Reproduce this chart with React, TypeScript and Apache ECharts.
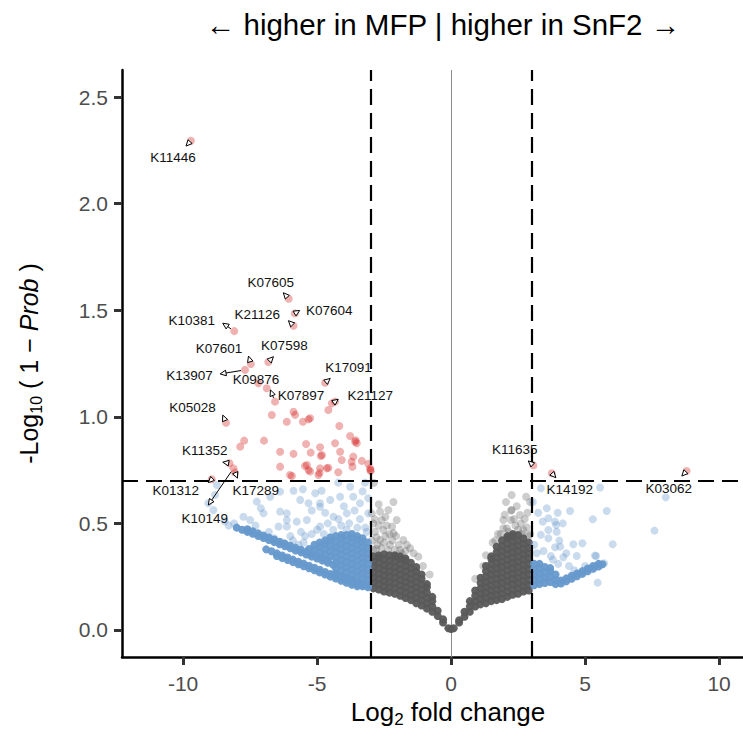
import React, { useEffect, useRef } from "react";
import * as echarts from "echarts";

const FONT = "'Liberation Sans', Arial, Helvetica, sans-serif";

// axis ticks and thresholds
const xTicks = [-10, -5, 0, 5, 10];
const yTicks = [0, 0.5, 1, 1.5, 2, 2.5];
const fcCut = 3;
const probCut = 0.699;

// dense non-significant cloud (gray), per column: [log2FC, [-log10(1-prob) values]]
const grayCore: [number, number[]][] = [
  [0.0, [0.004]],
  [-0.1, [0.008]],
  [-0.3, [0.035, 0.05]],
  [-0.5, [0.065, 0.09]],
  [-0.7, [0.085, 0.11, 0.135, 0.155]],
  [-0.9, [0.1, 0.125, 0.15, 0.175, 0.2, 0.215]],
  [-1.1, [0.115, 0.14, 0.165, 0.19, 0.215, 0.24, 0.26]],
  [-1.3, [0.125, 0.15, 0.175, 0.2, 0.225, 0.25, 0.275, 0.295]],
  [-1.5, [0.14, 0.165, 0.19, 0.215, 0.24, 0.265, 0.29, 0.315]],
  [-1.7, [0.15, 0.175, 0.2, 0.225, 0.25, 0.275, 0.3, 0.325, 0.335]],
  [-1.9, [0.16, 0.185, 0.21, 0.235, 0.26, 0.285, 0.31, 0.335, 0.345]],
  [-2.1, [0.17, 0.195, 0.22, 0.245, 0.27, 0.295, 0.32, 0.345, 0.35]],
  [-2.3, [0.175, 0.2, 0.225, 0.25, 0.275, 0.3, 0.325, 0.35]],
  [-2.5, [0.18, 0.205, 0.23, 0.255, 0.28, 0.305, 0.33, 0.355]],
  [-2.7, [0.19, 0.215, 0.24, 0.265, 0.29, 0.315, 0.34, 0.35]],
  [-2.9, [0.195, 0.22, 0.245, 0.27, 0.295, 0.32, 0.345]],
  [0.1, [0.008]],
  [0.3, [0.035, 0.045]],
  [0.5, [0.062, 0.085]],
  [0.7, [0.085, 0.11, 0.135]],
  [0.9, [0.11, 0.135, 0.16, 0.185]],
  [1.1, [0.12, 0.145, 0.17, 0.195, 0.22, 0.245]],
  [1.3, [0.125, 0.15, 0.175, 0.2, 0.225, 0.25, 0.275, 0.3]],
  [1.5, [0.135, 0.16, 0.185, 0.21, 0.235, 0.26, 0.285, 0.31, 0.335, 0.345]],
  [1.7, [0.14, 0.165, 0.19, 0.215, 0.24, 0.265, 0.29, 0.315, 0.34, 0.365, 0.39]],
  [1.9, [0.145, 0.17, 0.195, 0.22, 0.245, 0.27, 0.295, 0.32, 0.345, 0.37, 0.395, 0.42]],
  [2.1, [0.155, 0.18, 0.205, 0.23, 0.255, 0.28, 0.305, 0.33, 0.355, 0.38, 0.405, 0.43, 0.44]],
  [2.3, [0.165, 0.19, 0.215, 0.24, 0.265, 0.29, 0.315, 0.34, 0.365, 0.39, 0.415, 0.44, 0.45]],
  [2.5, [0.17, 0.195, 0.22, 0.245, 0.27, 0.295, 0.32, 0.345, 0.37, 0.395, 0.42, 0.445]],
  [2.7, [0.18, 0.205, 0.23, 0.255, 0.28, 0.305, 0.33, 0.355, 0.38, 0.405, 0.43]],
  [2.9, [0.185, 0.21, 0.235, 0.26, 0.285, 0.31, 0.335, 0.36, 0.385, 0.41]],
];

const graySparse: [number, number][] = [
  [-2.65, 0.555], [-2.34, 0.563], [-2.03, 0.516], [-2.15, 0.454], [-2.53, 0.469], [-2.84, 0.461],
  [-1.78, 0.422], [-1.53, 0.383], [-2.65, 0.422], [-2.28, 0.399], [-1.9, 0.375], [-1.22, 0.344],
  [-2.9, 0.375], [-2.59, 0.516], [-2.96, 0.547], [-2.45, 0.44], [-2.75, 0.4], [-2.2, 0.42],
  [-1.65, 0.4], [-1.4, 0.36], [-1.05, 0.3], [-0.8, 0.26], [-2.9, 0.5], [-2.4, 0.49], [-2.7, 0.59],
  [-2.88, 0.69], [-2.95, 0.42], [-2.8, 0.38], [-2.6, 0.385], [-2.35, 0.375], [-2.1, 0.375],
  [-1.85, 0.36], [-2.05, 0.44], [-2.5, 0.41], [-2.78, 0.435], [-2.3, 0.45], [-2.7, 0.49],
  [-2.2, 0.485], [-1.95, 0.4], [-2.45, 0.53], [-2.85, 0.52], [-1.7, 0.37], [-2.15, 0.6],
  [2.26, 0.633], [2.57, 0.539], [2.8, 0.625], [2.26, 0.563], [1.95, 0.516], [2.08, 0.477],
  [2.7, 0.469], [2.24, 0.56], [2.23, 0.516], [2.82, 0.482], [1.95, 0.477], [2.95, 0.6],
  [2.6, 0.5], [2.4, 0.49], [1.75, 0.45], [1.55, 0.41], [1.3, 0.35], [2.95, 0.45], [2.75, 0.52],
  [1.2, 0.3], [0.9, 0.24], [2.05, 0.6], [2.9, 0.44], [2.5, 0.47], [2.15, 0.46], [1.85, 0.45],
  [2.35, 0.52], [2.65, 0.45], [2.85, 0.55], [2.45, 0.58], [1.65, 0.42], [2.0, 0.54],
];

// dense cloud with |log2FC| > 3 but low probability (blue), per column
const blueCore: [number, number[]][] = [
  // upper streak
  [-8.0, [0.48]], [-7.8, [0.47]], [-7.6, [0.46, 0.472]], [-7.4, [0.451, 0.463]],
  [-7.2, [0.441, 0.453]], [-7.0, [0.431, 0.443]], [-6.8, [0.422, 0.434]], [-6.6, [0.412, 0.424]],
  [-6.4, [0.402, 0.414]], [-6.2, [0.393, 0.405]], [-6.0, [0.383, 0.395]], [-5.8, [0.373, 0.385]],
  [-5.6, [0.364, 0.376]], [-5.4, [0.354, 0.366]], [-5.2, [0.344, 0.356]], [-5.0, [0.335, 0.347]],
  [-4.8, [0.325, 0.337]], [-4.6, [0.315, 0.327]], [-4.4, [0.306]],
  // lower streak
  [-6.9, [0.378]], [-6.7, [0.369]], [-6.5, [0.359, 0.347]], [-6.3, [0.349, 0.337]],
  [-6.1, [0.34, 0.328]], [-5.9, [0.33, 0.318]], [-5.7, [0.32, 0.308]], [-5.5, [0.311, 0.299]],
  [-5.3, [0.301, 0.289]], [-5.1, [0.292, 0.28]], [-4.9, [0.282, 0.27]], [-4.7, [0.272, 0.26]],
  [-4.5, [0.262, 0.25]], [-4.3, [0.253, 0.241]], [-4.1, [0.243, 0.231]], [-3.9, [0.233, 0.221]],
  [-3.7, [0.224, 0.212]], [-3.5, [0.214, 0.205]],
  // block next to the threshold
  [-5.3, [0.38]],
  [-5.1, [0.375, 0.4]],
  [-4.9, [0.365, 0.39, 0.41]],
  [-4.7, [0.355, 0.38, 0.405, 0.42]],
  [-4.5, [0.345, 0.37, 0.395, 0.42, 0.435]],
  [-4.3, [0.265, 0.29, 0.315, 0.34, 0.365, 0.39, 0.415, 0.44]],
  [-4.1, [0.255, 0.28, 0.305, 0.33, 0.355, 0.38, 0.405, 0.43, 0.445]],
  [-3.9, [0.245, 0.27, 0.295, 0.32, 0.345, 0.37, 0.395, 0.42, 0.445]],
  [-3.7, [0.235, 0.26, 0.285, 0.31, 0.335, 0.36, 0.385, 0.41, 0.435, 0.45]],
  [-3.5, [0.225, 0.25, 0.275, 0.3, 0.325, 0.35, 0.375, 0.4, 0.425, 0.44]],
  [-3.3, [0.205, 0.215, 0.24, 0.265, 0.29, 0.315, 0.34, 0.365, 0.39, 0.415, 0.43]],
  [-3.1, [0.2, 0.21, 0.235, 0.26, 0.285, 0.31, 0.335, 0.36, 0.385, 0.41]],
  // right side
  [3.1, [0.21, 0.235, 0.26, 0.285, 0.31]],
  [3.3, [0.215, 0.24, 0.265, 0.29, 0.31]],
  [3.5, [0.22, 0.245, 0.27, 0.295]],
  [3.7, [0.225, 0.25, 0.275, 0.29]],
  [3.9, [0.215, 0.235, 0.26]],
  [4.1, [0.218, 0.232]], [4.3, [0.228, 0.242]], [4.5, [0.24, 0.254]], [4.7, [0.252, 0.265]],
  [4.9, [0.263, 0.276]], [5.1, [0.275, 0.288]], [5.3, [0.287, 0.3]], [5.5, [0.298, 0.31]],
  [5.65, [0.308]],
];

const blueSparse: [number, number][] = [
  [-8.81, 0.633], [-9.06, 0.594], [-7.25, 0.602], [-7.1, 0.571], [-7.5, 0.516], [-7.75, 0.531],
  [-6.38, 0.649], [-5.88, 0.653], [-5.63, 0.61], [-6.38, 0.555], [-6.13, 0.516], [-6.44, 0.485],
  [-5.76, 0.508], [-5.07, 0.641], [-5.32, 0.594], [-4.89, 0.594], [-5.53, 0.66], [-4.83, 0.653],
  [-4.21, 0.691], [-3.77, 0.672], [-3.21, 0.691], [-4.51, 0.61], [-7.0, 0.547], [-6.13, 0.547],
  [-4.89, 0.578], [-4.14, 0.625], [-3.65, 0.625], [-3.4, 0.594], [-3.09, 0.547], [-3.09, 0.618],
  [-4.39, 0.531], [-3.89, 0.547], [-7.62, 0.469], [-8.87, 0.563], [-8.74, 0.68], [-6.13, 0.485],
  [-5.38, 0.516], [-4.89, 0.485], [-6.75, 0.625], [-5.0, 0.47], [-4.6, 0.5], [-4.2, 0.52],
  [-3.8, 0.5], [-3.4, 0.52], [-3.2, 0.48], [-4.4, 0.47], [-5.2, 0.45], [-5.6, 0.46], [-6.0, 0.44],
  [-6.3, 0.41], [-5.7, 0.4], [-6.6, 0.43], [-3.6, 0.56], [-4.0, 0.58], [-3.3, 0.65], [-4.7, 0.55],
  [-5.2, 0.56], [-5.9, 0.42], [-5.5, 0.41], [-6.8, 0.46], [-7.3, 0.49], [-8.3, 0.49], [-8.45, 0.51],
  [-8.1, 0.5], [-3.5, 0.48], [-3.9, 0.47], [-4.1, 0.49], [-3.15, 0.46], [-4.75, 0.45], [-5.45, 0.44],
  [3.35, 0.665], [5.56, 0.668], [8.01, 0.622], [7.59, 0.466], [3.57, 0.571], [3.98, 0.55],
  [4.44, 0.558], [5.81, 0.558], [5.29, 0.519], [3.42, 0.508], [3.63, 0.524], [3.88, 0.508],
  [3.92, 0.492], [4.17, 0.5], [3.63, 0.469], [3.94, 0.461], [3.35, 0.446], [3.63, 0.43],
  [4.04, 0.419], [3.88, 0.388], [4.07, 0.391], [4.56, 0.402], [4.9, 0.407], [6.03, 0.402],
  [5.41, 0.347], [4.69, 0.347], [3.72, 0.347], [4.19, 0.341], [5.47, 0.222], [5.37, 0.349],
  [5.71, 0.313], [3.2, 0.36], [3.1, 0.4], [3.45, 0.37], [3.8, 0.33], [4.4, 0.3], [4.0, 0.31],
  [3.25, 0.55], [3.05, 0.6], [4.6, 0.28], [5.0, 0.3], [4.3, 0.36],
];

// significant (red)
const redPoints: [number, number][] = [
  [-9.71, 2.295], [-6.06, 1.554], [-5.83, 1.485], [-5.88, 1.427], [-8.09, 1.402], [-7.47, 1.248],
  [-7.69, 1.22], [-6.82, 1.257], [-6.88, 1.134], [-7.19, 1.157], [-6.57, 1.071], [-4.7, 1.16],
  [-4.33, 1.071], [-4.45, 1.063], [-4.58, 1.032], [-8.4, 0.972], [-6.69, 1.008], [-5.88, 1.024],
  [-5.82, 1.009], [-6.13, 0.977], [-5.53, 0.977], [-5.32, 0.988], [-5.26, 0.993], [-4.17, 0.957],
  [-7.72, 0.888], [-7.87, 0.86], [-6.98, 0.888], [-6.38, 0.836], [-5.88, 0.826], [-5.41, 0.872],
  [-5.24, 0.832], [-4.89, 0.857], [-4.86, 0.816], [-4.82, 0.821], [-4.33, 0.876], [-4.14, 0.836],
  [-3.77, 0.91], [-3.58, 0.883], [-3.52, 0.876], [-3.56, 0.89], [-3.65, 0.813], [-3.33, 0.793],
  [-3.09, 0.779], [-3.02, 0.758], [-3.01, 0.75], [-3.0, 0.745], [-5.45, 0.769], [-5.38, 0.774],
  [-5.26, 0.743], [-5.32, 0.75], [-4.95, 0.727], [-4.91, 0.737], [-4.89, 0.758], [-4.64, 0.758],
  [-4.58, 0.761], [-4.21, 0.74], [-4.08, 0.797], [-3.71, 0.789], [-3.68, 0.766], [-5.94, 0.722],
  [-6.01, 0.727], [-6.38, 0.766], [-8.27, 0.782], [-8.12, 0.758], [-8.06, 0.738], [-8.93, 0.707],
  [3.07, 0.772], [3.76, 0.735], [8.79, 0.746],
];

// labels: name, point, label centre, arrow tip (null = no arrow)
const labelNames = ["K11446", "K07605", "K07604", "K21126", "K10381", "K07601", "K13907", "K07598",
  "K09876", "K07897", "K17091", "K21127", "K05028", "K11352", "K01312", "K17289", "K10149",
  "K11635", "K14192", "K03062"];
const labelPoint: [number, number][] = [
  [-9.71, 2.295], [-6.06, 1.554], [-5.83, 1.485], [-5.88, 1.427], [-8.09, 1.402], [-7.47, 1.248],
  [-7.69, 1.22], [-6.82, 1.257], [-6.57, 1.071], [-6.57, 1.071], [-4.7, 1.16], [-4.33, 1.071],
  [-8.4, 0.972], [-8.27, 0.782], [-8.93, 0.707], [-8.06, 0.738], [-8.12, 0.758],
  [3.07, 0.772], [3.76, 0.735], [8.79, 0.746],
];
const labelPos: [number, number][] = [
  [-10.38, 2.217], [-6.73, 1.631], [-4.55, 1.501], [-7.23, 1.482], [-9.68, 1.451], [-8.66, 1.319],
  [-9.76, 1.196], [-6.22, 1.334], [-7.28, 1.176], [-5.6, 1.098], [-3.83, 1.23], [-3.02, 1.099],
  [-9.65, 1.045], [-9.19, 0.841], [-10.27, 0.653], [-7.29, 0.653], [-9.19, 0.524],
  [2.38, 0.847], [4.43, 0.657], [8.12, 0.665],
];
const labelTip: ([number, number] | null)[] = [
  [-9.89, 2.27], [-6.26, 1.582], [-5.65, 1.499], [-6.07, 1.451], [-8.52, 1.439], [-7.56, 1.285],
  [-8.62, 1.201], [-6.63, 1.282], [-6.74, 1.126], null, [-4.51, 1.18], [-4.21, 1.082],
  [-8.52, 1.008], [-8.52, 0.787], [-9.06, 0.691], [-7.97, 0.712], [-9.06, 0.586],
  [2.88, 0.793], [3.91, 0.714], [8.61, 0.722],
];

const expand = (cols: [number, number[]][]) =>
  cols.flatMap(([x, ys]) => ys.map((y) => [x, y]));

export default function App() {
  const ref = useRef<HTMLDivElement>(null);
  useEffect(() => {
    if (!ref.current) return;
    const chart = echarts.init(ref.current, undefined, { renderer: "svg" });
    const annData = labelNames.map((_, i) => {
      const p = labelPoint[i];
      const l = labelPos[i];
      const t = labelTip[i];
      return [p[0], p[1], l[0], l[1], t ? t[0] : p[0], t ? t[1] : p[1], t ? 1 : 0];
    });
    const sym = 8;
    const option: any = {
      animation: false,
      grid: {
        left: 122,
        top: 70,
        width: 652,
        height: 587,
        containLabel: false,
        outerBoundsMode: "none",
      },
      graphic: [
        {
          type: "text",
          x: 443,
          y: 24,
          style: {
            text: "← higher in MFP | higher in SnF2 →",
            fontSize: 29.5,
            fontFamily: FONT,
            fill: "#000",
            align: "center",
            verticalAlign: "middle",
          },
        },
      ],
      xAxis: {
        type: "value",
        min: -12.28,
        max: 12.05,
        splitLine: { show: false },
        axisLine: { show: true, onZero: false, lineStyle: { color: "#000", width: 2.5 } },
        axisTick: { show: true, customValues: xTicks, length: 8, lineStyle: { color: "#333", width: 3 } },
        axisLabel: { customValues: xTicks, color: "#4d4d4d", fontSize: 21, fontFamily: FONT, margin: 16 },
        name: "{a|Log}{s|2}{a| fold change}",
        nameLocation: "middle",
        nameGap: 39,
        nameTextStyle: {
          rich: {
            a: { fontSize: 26, fontFamily: FONT, color: "#000", lineHeight: 32 },
            s: { fontSize: 17, fontFamily: FONT, color: "#000", lineHeight: 18, verticalAlign: "bottom" },
          },
        },
      },
      yAxis: {
        type: "value",
        min: -0.127,
        max: 2.627,
        splitLine: { show: false },
        axisLine: { show: true, onZero: false, lineStyle: { color: "#000", width: 2.5 } },
        axisTick: { show: true, customValues: yTicks, length: 8, lineStyle: { color: "#333", width: 3 } },
        axisLabel: {
          customValues: yTicks,
          color: "#4d4d4d",
          fontSize: 21,
          fontFamily: FONT,
          margin: 14,
          formatter: (v: number) => v.toFixed(1),
        },
        name: "{a|-Log}{s|10}{a| ( 1 − }{i|Prob}{a| )}",
        nameLocation: "middle",
        nameRotate: 90,
        nameGap: 78,
        nameTextStyle: {
          rich: {
            a: { fontSize: 25, fontFamily: FONT, color: "#000", lineHeight: 30 },
            s: { fontSize: 16, fontFamily: FONT, color: "#000", lineHeight: 17, verticalAlign: "bottom" },
            i: { fontSize: 25, fontFamily: FONT, color: "#000", lineHeight: 30, fontStyle: "italic" },
          },
        },
      },
      series: [
        {
          type: "scatter",
          data: expand(grayCore),
          symbolSize: sym,
          itemStyle: { color: "#595959", opacity: 0.95 },
          silent: true,
          z: 2,
          markLine: {
            silent: true,
            symbol: ["none", "none"],
            z: 1,
            label: { show: false },
            lineStyle: { color: "#8c8c8c", width: 1, type: "solid" },
            data: [{ xAxis: 0 }],
          },
        },
        {
          type: "scatter",
          data: graySparse,
          symbolSize: sym,
          itemStyle: { color: "#595959", opacity: 0.3 },
          silent: true,
          z: 2,
        },
        {
          type: "scatter",
          data: expand(blueCore),
          symbolSize: sym,
          itemStyle: { color: "#6699cc", opacity: 0.95 },
          silent: true,
          z: 3,
        },
        {
          type: "scatter",
          data: blueSparse,
          symbolSize: sym,
          itemStyle: { color: "#6699cc", opacity: 0.35 },
          silent: true,
          z: 3,
        },
        {
          type: "scatter",
          data: redPoints,
          symbolSize: sym,
          itemStyle: { color: "#d42020", opacity: 0.35 },
          silent: true,
          z: 4,
          markLine: {
            silent: true,
            symbol: ["none", "none"],
            z: 5,
            label: { show: false },
            lineStyle: { color: "#000", width: 2.2, type: [16, 8] },
            data: [{ xAxis: -fcCut }, { xAxis: fcCut }, { yAxis: probCut }],
          },
        },
        {
          type: "custom",
          coordinateSystem: "cartesian2d",
          data: annData,
          encode: { x: [0, 2, 4], y: [1, 3, 5] },
          clip: false,
          silent: true,
          z: 6,
          renderItem: (params: any, api: any) => {
            const i = params.dataIndex;
            const p = api.coord([api.value(0), api.value(1)]);
            const l = api.coord([api.value(2), api.value(3)]);
            const t = api.coord([api.value(4), api.value(5)]);
            const has = api.value(6) === 1;
            const children: any[] = [];
            if (has) {
              const dx = t[0] - p[0];
              const dy = t[1] - p[1];
              const len = Math.sqrt(dx * dx + dy * dy) || 1;
              const ux = dx / len;
              const uy = dy / len;
              const nx = -uy;
              const ny = ux;
              const head = 6;
              const hw = 2.8;
              const sx = p[0] + ux * 4;
              const sy = p[1] + uy * 4;
              const bx = t[0] - ux * head;
              const by = t[1] - uy * head;
              if ((bx - sx) * ux + (by - sy) * uy > 0) {
                children.push({
                  type: "line",
                  shape: { x1: sx, y1: sy, x2: bx, y2: by },
                  style: { stroke: "#000", lineWidth: 1 },
                });
              }
              children.push({
                type: "polygon",
                shape: {
                  points: [
                    [t[0], t[1]],
                    [bx + nx * hw, by + ny * hw],
                    [bx - nx * hw, by - ny * hw],
                  ],
                },
                style: { fill: "#fff", stroke: "#000", lineWidth: 1 },
              });
            }
            children.push({
              type: "text",
              style: {
                text: labelNames[i],
                x: l[0],
                y: l[1],
                align: "center",
                verticalAlign: "middle",
                fontSize: 13.5,
                fontFamily: FONT,
                fill: "#111",
              },
            });
            return { type: "group", children };
          },
        },
      ],
    };
    chart.setOption(option);
    return () => chart.dispose();
  }, []);
  return (
    <div
      ref={ref}
      style={{ position: "fixed", left: 0, top: 0, width: 743, height: 746, background: "#fff" }}
    />
  );
}
